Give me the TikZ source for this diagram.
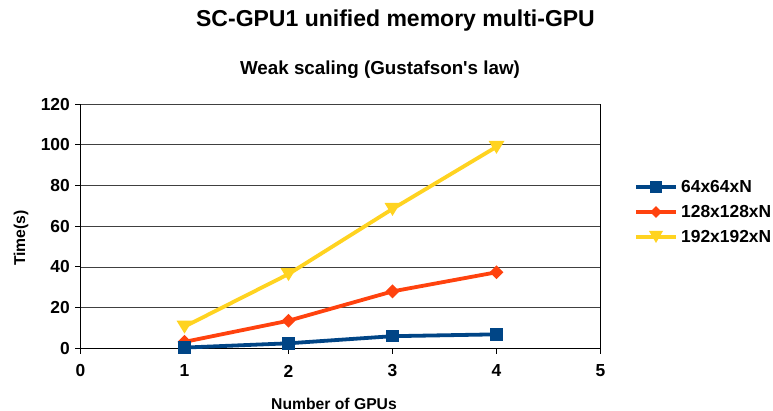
\documentclass[tikz,border=0pt]{standalone}
\usepackage{fontspec}
\usetikzlibrary{shapes.geometric}
\setmainfont{Liberation Sans}
\begin{document}
\begin{tikzpicture}[x=1pt,y=-1pt,
  lbl/.style={font=\bfseries\fontsize{17.4}{20}\selectfont, inner sep=0pt},
  ttl/.style={font=\bfseries\fontsize{15.7}{18}\selectfont, inner sep=0pt},
  grid line/.style={draw=black!75, line width=0.9pt},
  axis line/.style={draw=black, line width=1pt},
  ser/.style={line width=3.8pt, line join=round},
  sqmark/.style={fill=#1, minimum size=12.5pt, inner sep=0pt, draw=none},
  dimark/.style={fill=#1, diamond, minimum size=14pt, inner sep=0pt, draw=none},
]
\definecolor{cblue}{HTML}{004586}
\definecolor{corange}{HTML}{FF420E}
\definecolor{cyellow}{HTML}{FFD320}
\useasboundingbox (0,0) rectangle (773,411);
\fill[white] (0,0) rectangle (773,411);

% data-to-pixel mapping
\def\px#1{80.5+104*#1}
\def\py#1{348.4-2.036*#1}

% titles
\node[font=\bfseries\fontsize{23}{27}\selectfont, inner sep=0pt] (title) at (395.5,21) {SC-GPU1 unified memory multi-GPU};
\node[font=\bfseries\fontsize{18.8}{22}\selectfont, inner sep=0pt] (subtitle) at (380,70) {Weak scaling (Gustafson\textquotesingle s law)};

% horizontal grid and y ticks
\foreach \v in {20,40,...,120} {
  \draw[grid line] ({\px{0}},{\py{\v}}) -- ({\px{5}},{\py{\v}});
}
\foreach \v in {0,20,...,120} {
  \draw[axis line] (75,{\py{\v}}) -- ({\px{0}},{\py{\v}});
  \node[lbl, anchor=east] (yt\v) at (70,{\py{\v}}) {\v};
}
% axes
\draw[axis line] ({\px{0}},{\py{0}}) -- ({\px{5}},{\py{0}});
\draw[axis line] ({\px{0}},{\py{0}}) -- ({\px{0}},{\py{120}});
\draw[axis line] ({\px{5}},{\py{0}}) -- ({\px{5}},{\py{120}});
\foreach \k in {0,...,5} {
  \draw[axis line] ({\px{\k}},{\py{0}}) -- ({\px{\k}},354);
  \node[lbl, anchor=center] (xt\k) at ({\px{\k}},371) {\k};
}

% axis titles
\node[ttl] (xtitle) at (334,403.5) {Number of GPUs};
\node[ttl, rotate=90] (ytitle) at (21,238) {Time(s)};

% series 192x192xN
\draw[ser, cyellow] ({\px{1}},{\py{10.7}}) -- ({\px{2}},{\py{36.5}}) -- ({\px{3}},{\py{68.5}}) -- ({\px{4}},{\py{99}});
\foreach \xx/\yy in {1/10.7,2/36.5,3/68.5,4/99} {
  \fill[cyellow] ({\px{\xx}-8},{\py{\yy}-6}) -- ({\px{\xx}+8},{\py{\yy}-6}) -- ({\px{\xx}},{\py{\yy}+7}) -- cycle;
}
% series 128x128xN
\draw[ser, corange] ({\px{1}},{\py{3.2}}) -- ({\px{2}},{\py{13.6}}) -- ({\px{3}},{\py{28}}) -- ({\px{4}},{\py{37.4}});
\foreach \xx/\yy in {1/3.2,2/13.6,3/28,4/37.4} {
  \node[dimark=corange] at ({\px{\xx}},{\py{\yy}}) {};
}
% series 64x64xN
\draw[ser, cblue] ({\px{1}},{\py{0.4}}) -- ({\px{2}},{\py{2.5}}) -- ({\px{3}},{\py{6}}) -- ({\px{4}},{\py{6.9}});
\foreach \xx/\yy in {1/0.4,2/2.5,3/6,4/6.9} {
  \node[sqmark=cblue] at ({\px{\xx}},{\py{\yy}}) {};
}

% legend
\draw[ser, cblue] (636,187) -- (676,187);
\node[sqmark=cblue] (lk1) at (656,187) {};
\node[lbl, anchor=west] (lt1) at (681,187) {64x64xN};
\draw[ser, corange] (636,212) -- (676,212);
\node[dimark=corange, minimum size=12pt] (lk2) at (656,212) {};
\node[lbl, anchor=west] (lt2) at (681,212) {128x128xN};
\draw[ser, cyellow] (636,237) -- (676,237);
\fill[cyellow] (649,231) -- (663,231) -- (656,243) -- cycle;
\node[lbl, anchor=west] (lt3) at (681,237) {192x192xN};
\end{tikzpicture}
\end{document}
